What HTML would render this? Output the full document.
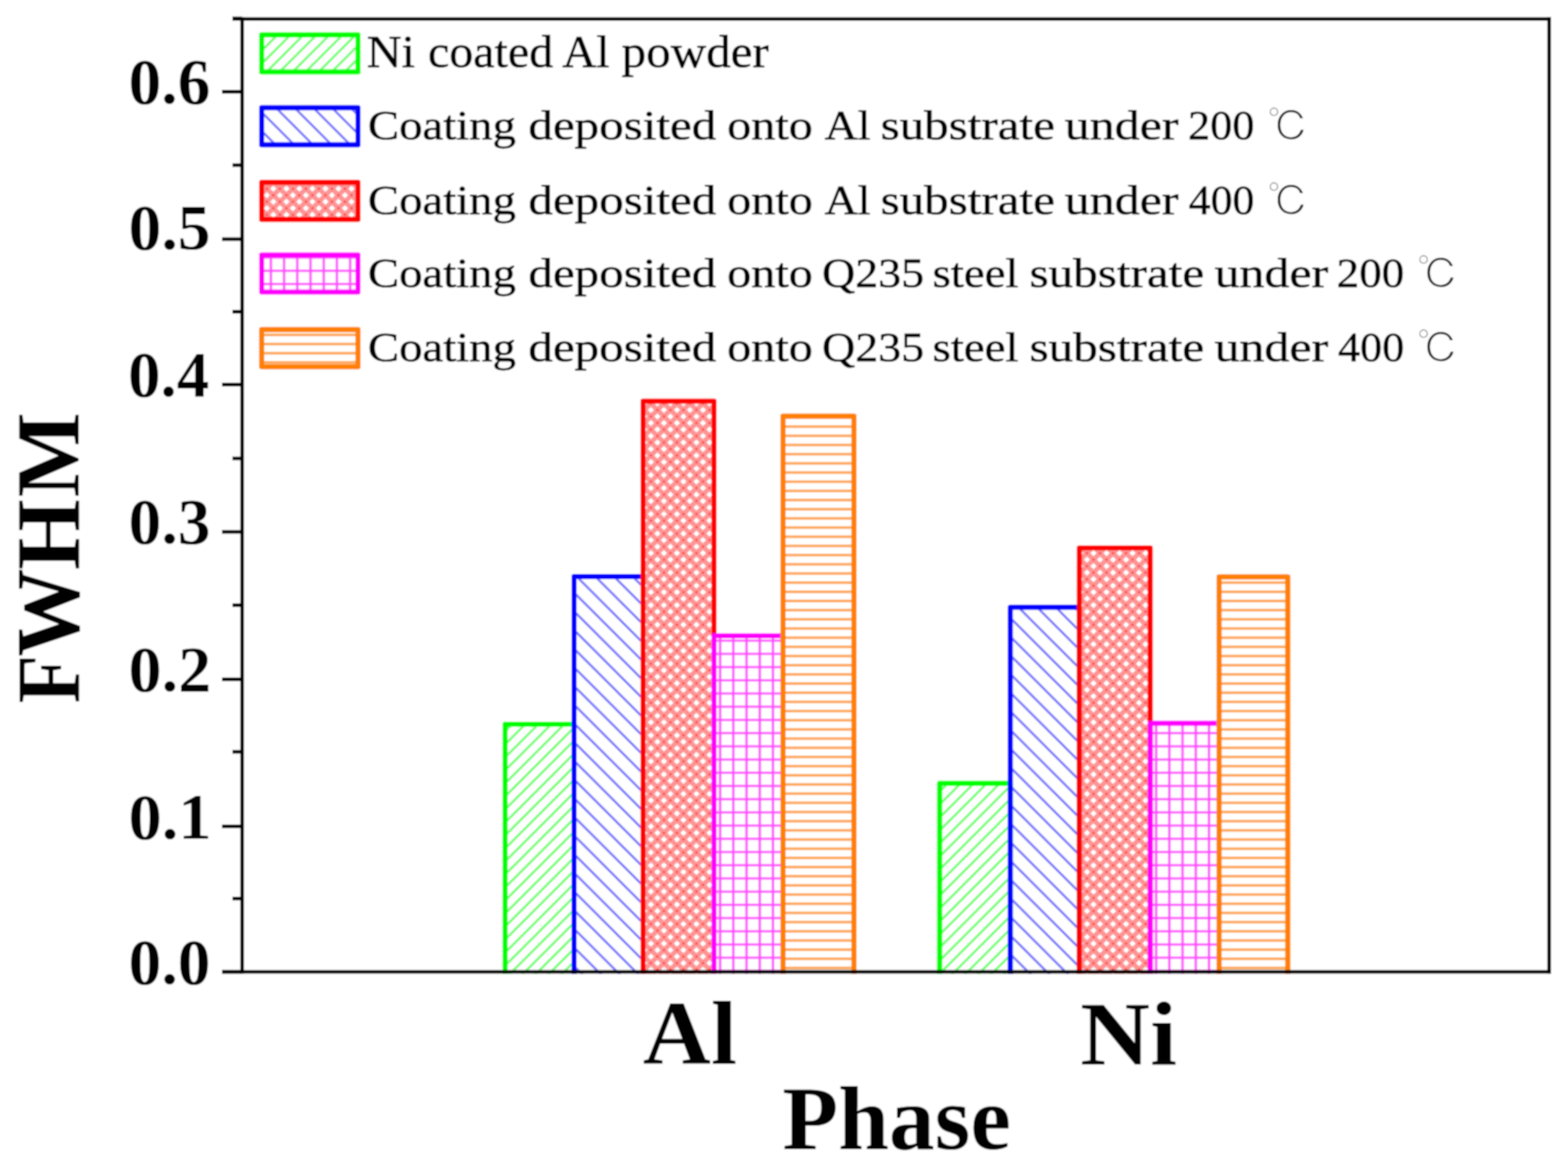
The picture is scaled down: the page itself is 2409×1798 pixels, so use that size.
<!DOCTYPE html>
<html><head><meta charset="utf-8"><title>FWHM chart</title>
<style>
html,body{margin:0;padding:0;background:#fff;overflow:hidden;}
svg{display:block;}
text{font-family:"Liberation Serif","Noto Serif CJK SC",serif;fill:#000;}
</style></head><body>
<svg xmlns="http://www.w3.org/2000/svg" width="2409" height="1798" viewBox="0 0 2409 1798">
<rect x="0" y="0" width="2409" height="1798" fill="#fff"/>
<defs>
<filter id="soft" filterUnits="userSpaceOnUse" x="0" y="0" width="2409" height="1798"><feGaussianBlur stdDeviation="0.9"/></filter>
<pattern id="pg" patternUnits="userSpaceOnUse" width="20" height="20"><path d="M-5,25 L25,-5 M-5,5 L5,-5 M15,25 L25,15" stroke="#6aff6a" stroke-width="3.6" fill="none"/></pattern>
<pattern id="pb" patternUnits="userSpaceOnUse" width="28.7" height="28.7"><path d="M-5,-5 L33.7,33.7 M23.7,-5 L33.7,5 M-5,23.7 L5,33.7" stroke="#7070ff" stroke-width="3.4" fill="none"/></pattern>
<pattern id="pr" patternUnits="userSpaceOnUse" width="20" height="20"><path d="M-5,-5 L25,25 M15,-5 L25,5 M-5,15 L5,25 M-5,25 L25,-5 M-5,5 L5,-5 M15,25 L25,15" stroke="#ff9494" stroke-width="7.4" fill="none"/><g fill="#ff3030"><rect x="-1.5" y="-1.5" width="3" height="3"/><rect x="18.5" y="-1.5" width="3" height="3"/><rect x="-1.5" y="18.5" width="3" height="3"/><rect x="18.5" y="18.5" width="3" height="3"/><rect x="8.5" y="8.5" width="3" height="3"/></g></pattern>
<pattern id="pm" patternUnits="userSpaceOnUse" width="20.3" height="20.3"><path d="M0,10.15 H20.3 M10.15,0 V20.3" stroke="#ff4dff" stroke-width="3.6" fill="none"/></pattern>
<pattern id="po" patternUnits="userSpaceOnUse" width="20" height="14.1"><path d="M0,7.05 H20" stroke="#ffa048" stroke-width="3.8" fill="none"/></pattern>
</defs>
<g filter="url(#soft)">
<rect x="0" y="0" width="2409" height="1798" fill="#fff"/>
<path d="M776,1497 L776,1113 L882,1113 L882,1497" fill="url(#pg)" stroke="#00ff00" stroke-width="8" stroke-linejoin="round"/>
<path d="M882,1497 L882,886 L988,886 L988,1497" fill="url(#pb)" stroke="#0000ff" stroke-width="8" stroke-linejoin="round"/>
<path d="M988,1497 L988,616.4 L1097,616.4 L1097,1497" fill="url(#pr)" stroke="#ff0000" stroke-width="8" stroke-linejoin="round"/>
<path d="M1097,1497 L1097,977 L1203,977 L1203,1497" fill="url(#pm)" stroke="#ff00ff" stroke-width="8" stroke-linejoin="round"/>
<path d="M1203,1497 L1203,639.4 L1312,639.4 L1312,1497" fill="url(#po)" stroke="#ff8000" stroke-width="8" stroke-linejoin="round"/>
<path d="M1443.6,1497 L1443.6,1203.8 L1552.2,1203.8 L1552.2,1497" fill="url(#pg)" stroke="#00ff00" stroke-width="8" stroke-linejoin="round"/>
<path d="M1552.2,1497 L1552.2,933.3 L1658.3,933.3 L1658.3,1497" fill="url(#pb)" stroke="#0000ff" stroke-width="8" stroke-linejoin="round"/>
<path d="M1658.3,1497 L1658.3,842 L1767.2,842 L1767.2,1497" fill="url(#pr)" stroke="#ff0000" stroke-width="8" stroke-linejoin="round"/>
<path d="M1767.2,1497 L1767.2,1111.6 L1873,1111.6 L1873,1497" fill="url(#pm)" stroke="#ff00ff" stroke-width="8" stroke-linejoin="round"/>
<path d="M1873,1497 L1873,886.6 L1978.5,886.6 L1978.5,1497" fill="url(#po)" stroke="#ff8000" stroke-width="8" stroke-linejoin="round"/>
<g stroke="#000" stroke-width="5.6" fill="none">
<path d="M372.0,26.5 V1496.3"/>
<path d="M2380.0,26.5 V1496.3"/>
<path d="M357,29.3 H2382.8"/>
<path d="M341,1493.5 H2382.8"/>
<path d="M341,1493.5 H372.0"/>
<path d="M341,1269.8 H372.0"/>
<path d="M341,1043.9 H372.0"/>
<path d="M341,817.4 H372.0"/>
<path d="M341,591.0 H372.0"/>
<path d="M341,367.5 H372.0"/>
<path d="M341,141.0 H372.0"/>
<path d="M357,1380.8 H372.0"/>
<path d="M357,1155.4 H372.0"/>
<path d="M357,930.0 H372.0"/>
<path d="M357,704.5 H372.0"/>
<path d="M357,479.1 H372.0"/>
<path d="M357,253.7 H372.0"/>
<path d="M357,28.3 H372.0"/>
</g>
<text x="197.6" y="1511.5" font-size="99.0" font-weight="bold" textLength="125.8" lengthAdjust="spacingAndGlyphs">0.0</text>
<text x="197.4" y="1288.9" font-size="99.0" font-weight="bold" textLength="127.5" lengthAdjust="spacingAndGlyphs">0.1</text>
<text x="197.5" y="1061.5" font-size="99.0" font-weight="bold" textLength="126.9" lengthAdjust="spacingAndGlyphs">0.2</text>
<text x="197.6" y="835.4" font-size="99.0" font-weight="bold" textLength="125.8" lengthAdjust="spacingAndGlyphs">0.3</text>
<text x="196.7" y="609.4" font-size="99.0" font-weight="bold" textLength="124.6" lengthAdjust="spacingAndGlyphs">0.4</text>
<text x="197.6" y="383.2" font-size="99.0" font-weight="bold" textLength="125.8" lengthAdjust="spacingAndGlyphs">0.5</text>
<text x="197.6" y="159.3" font-size="99.0" font-weight="bold" textLength="125.7" lengthAdjust="spacingAndGlyphs">0.6</text>
<text x="0" y="0" font-size="140.0" fill="#000" style="fill:#000" font-weight="bold" stroke="#000" stroke-width="0.0" transform="translate(120.5,1080.8) rotate(-90)" textLength="74.5" lengthAdjust="spacingAndGlyphs">F</text>
<text x="0" y="0" font-size="140.0" fill="#000" style="fill:#000" font-weight="bold" stroke="#000" stroke-width="0.0" transform="translate(120.5,1009.2) rotate(-90)" textLength="135.6" lengthAdjust="spacingAndGlyphs">W</text>
<text x="0" y="0" font-size="140.0" fill="#000" style="fill:#000" font-weight="bold" stroke="#000" stroke-width="0.0" transform="translate(120.5,876.0) rotate(-90)" textLength="108.9" lengthAdjust="spacingAndGlyphs">H</text>
<text x="0" y="0" font-size="140.0" fill="#000" style="fill:#000" font-weight="bold" stroke="#000" stroke-width="0.0" transform="translate(120.5,764.2) rotate(-90)" textLength="130.7" lengthAdjust="spacingAndGlyphs">M</text>
<rect x="402" y="53.5" width="148" height="57" fill="url(#pg)" stroke="#00ff00" stroke-width="8" stroke-linejoin="round"/>
<rect x="402" y="165.5" width="148" height="57" fill="url(#pb)" stroke="#0000ff" stroke-width="8" stroke-linejoin="round"/>
<rect x="402" y="280.3" width="148" height="57" fill="url(#pr)" stroke="#ff0000" stroke-width="8" stroke-linejoin="round"/>
<rect x="402" y="391.8" width="148" height="57" fill="url(#pm)" stroke="#ff00ff" stroke-width="8" stroke-linejoin="round"/>
<rect x="402" y="506.6" width="148" height="57" fill="url(#po)" stroke="#ff8000" stroke-width="8" stroke-linejoin="round"/>
<text x="563.6" y="102.6" font-size="70" stroke="#000" stroke-width="0.9" textLength="73.9" lengthAdjust="spacingAndGlyphs">Ni</text>
<text x="657.5" y="102.6" font-size="70" stroke="#000" stroke-width="0.9" textLength="192.3" lengthAdjust="spacingAndGlyphs">coated</text>
<text x="864.1" y="102.6" font-size="70" stroke="#000" stroke-width="0.9" textLength="72.3" lengthAdjust="spacingAndGlyphs">Al</text>
<text x="955.0" y="102.6" font-size="70" stroke="#000" stroke-width="0.9" textLength="226.2" lengthAdjust="spacingAndGlyphs">powder</text>
<text x="565.3" y="214.2" font-size="64" stroke="#000" stroke-width="0.9" textLength="227.3" lengthAdjust="spacingAndGlyphs">Coating</text>
<text x="811.8" y="214.2" font-size="64" stroke="#000" stroke-width="0.9" textLength="288.6" lengthAdjust="spacingAndGlyphs">deposited</text>
<text x="1117.3" y="214.2" font-size="64" stroke="#000" stroke-width="0.9" textLength="131.3" lengthAdjust="spacingAndGlyphs">onto</text>
<text x="1266.7" y="214.2" font-size="64" stroke="#000" stroke-width="0.9" textLength="70.6" lengthAdjust="spacingAndGlyphs">Al</text>
<text x="1352.9" y="214.2" font-size="64" stroke="#000" stroke-width="0.9" textLength="267.7" lengthAdjust="spacingAndGlyphs">substrate</text>
<text x="1635.8" y="214.2" font-size="64" stroke="#000" stroke-width="0.9" textLength="174.9" lengthAdjust="spacingAndGlyphs">under</text>
<text x="1825.3" y="214.2" font-size="64" stroke="#000" stroke-width="0.9" textLength="101.9" lengthAdjust="spacingAndGlyphs">200</text>
<text x="1946.7" y="216.7" font-size="63" style="font-family:'IPAGothic','WenQuanYi Zen Hei','Noto Sans CJK SC',sans-serif" stroke="#fff" stroke-width="1.8" textLength="64.5" lengthAdjust="spacingAndGlyphs">&#8451;</text>
<text x="565.3" y="329.2" font-size="64" stroke="#000" stroke-width="0.9" textLength="227.3" lengthAdjust="spacingAndGlyphs">Coating</text>
<text x="811.8" y="329.2" font-size="64" stroke="#000" stroke-width="0.9" textLength="288.6" lengthAdjust="spacingAndGlyphs">deposited</text>
<text x="1117.3" y="329.2" font-size="64" stroke="#000" stroke-width="0.9" textLength="131.3" lengthAdjust="spacingAndGlyphs">onto</text>
<text x="1266.7" y="329.2" font-size="64" stroke="#000" stroke-width="0.9" textLength="70.6" lengthAdjust="spacingAndGlyphs">Al</text>
<text x="1352.9" y="329.2" font-size="64" stroke="#000" stroke-width="0.9" textLength="267.7" lengthAdjust="spacingAndGlyphs">substrate</text>
<text x="1635.8" y="329.2" font-size="64" stroke="#000" stroke-width="0.9" textLength="174.9" lengthAdjust="spacingAndGlyphs">under</text>
<text x="1826.3" y="329.2" font-size="64" stroke="#000" stroke-width="0.9" textLength="100.8" lengthAdjust="spacingAndGlyphs">400</text>
<text x="1946.7" y="331.7" font-size="63" style="font-family:'IPAGothic','WenQuanYi Zen Hei','Noto Sans CJK SC',sans-serif" stroke="#fff" stroke-width="1.8" textLength="64.5" lengthAdjust="spacingAndGlyphs">&#8451;</text>
<text x="565.3" y="441.0" font-size="64" stroke="#000" stroke-width="0.9" textLength="227.3" lengthAdjust="spacingAndGlyphs">Coating</text>
<text x="811.8" y="441.0" font-size="64" stroke="#000" stroke-width="0.9" textLength="288.6" lengthAdjust="spacingAndGlyphs">deposited</text>
<text x="1117.3" y="441.0" font-size="64" stroke="#000" stroke-width="0.9" textLength="131.3" lengthAdjust="spacingAndGlyphs">onto</text>
<text x="1263.1" y="441.0" font-size="64" stroke="#000" stroke-width="0.9" textLength="156.5" lengthAdjust="spacingAndGlyphs">Q235</text>
<text x="1432.7" y="441.0" font-size="64" stroke="#000" stroke-width="0.9" textLength="132.0" lengthAdjust="spacingAndGlyphs">steel</text>
<text x="1581.7" y="441.0" font-size="64" stroke="#000" stroke-width="0.9" textLength="268.3" lengthAdjust="spacingAndGlyphs">substrate</text>
<text x="1865.9" y="441.0" font-size="64" stroke="#000" stroke-width="0.9" textLength="174.7" lengthAdjust="spacingAndGlyphs">under</text>
<text x="2053.6" y="441.0" font-size="64" stroke="#000" stroke-width="0.9" textLength="103.9" lengthAdjust="spacingAndGlyphs">200</text>
<text x="2176.4" y="443.5" font-size="63" style="font-family:'IPAGothic','WenQuanYi Zen Hei','Noto Sans CJK SC',sans-serif" stroke="#fff" stroke-width="1.8" textLength="65.1" lengthAdjust="spacingAndGlyphs">&#8451;</text>
<text x="565.3" y="555.2" font-size="64" stroke="#000" stroke-width="0.9" textLength="227.3" lengthAdjust="spacingAndGlyphs">Coating</text>
<text x="811.8" y="555.2" font-size="64" stroke="#000" stroke-width="0.9" textLength="288.6" lengthAdjust="spacingAndGlyphs">deposited</text>
<text x="1117.3" y="555.2" font-size="64" stroke="#000" stroke-width="0.9" textLength="131.3" lengthAdjust="spacingAndGlyphs">onto</text>
<text x="1263.1" y="555.2" font-size="64" stroke="#000" stroke-width="0.9" textLength="156.5" lengthAdjust="spacingAndGlyphs">Q235</text>
<text x="1432.7" y="555.2" font-size="64" stroke="#000" stroke-width="0.9" textLength="132.0" lengthAdjust="spacingAndGlyphs">steel</text>
<text x="1581.7" y="555.2" font-size="64" stroke="#000" stroke-width="0.9" textLength="268.3" lengthAdjust="spacingAndGlyphs">substrate</text>
<text x="1865.9" y="555.2" font-size="64" stroke="#000" stroke-width="0.9" textLength="174.7" lengthAdjust="spacingAndGlyphs">under</text>
<text x="2055.7" y="555.2" font-size="64" stroke="#000" stroke-width="0.9" textLength="101.8" lengthAdjust="spacingAndGlyphs">400</text>
<text x="2176.4" y="557.7" font-size="63" style="font-family:'IPAGothic','WenQuanYi Zen Hei','Noto Sans CJK SC',sans-serif" stroke="#fff" stroke-width="1.8" textLength="65.1" lengthAdjust="spacingAndGlyphs">&#8451;</text>
<text x="987.6" y="1634.5" font-size="140.0" font-weight="bold" stroke="#000" stroke-width="0.0" textLength="144.9" lengthAdjust="spacingAndGlyphs">Al</text>
<text x="1659.6" y="1635.5" font-size="140.0" font-weight="bold" stroke="#000" stroke-width="0.0" textLength="148.8" lengthAdjust="spacingAndGlyphs">Ni</text>
<text x="1201.9" y="1765.5" font-size="140.0" font-weight="bold" stroke="#000" stroke-width="0.0" textLength="351.2" lengthAdjust="spacingAndGlyphs">Phase</text>
</g>
</svg>
</body></html>
